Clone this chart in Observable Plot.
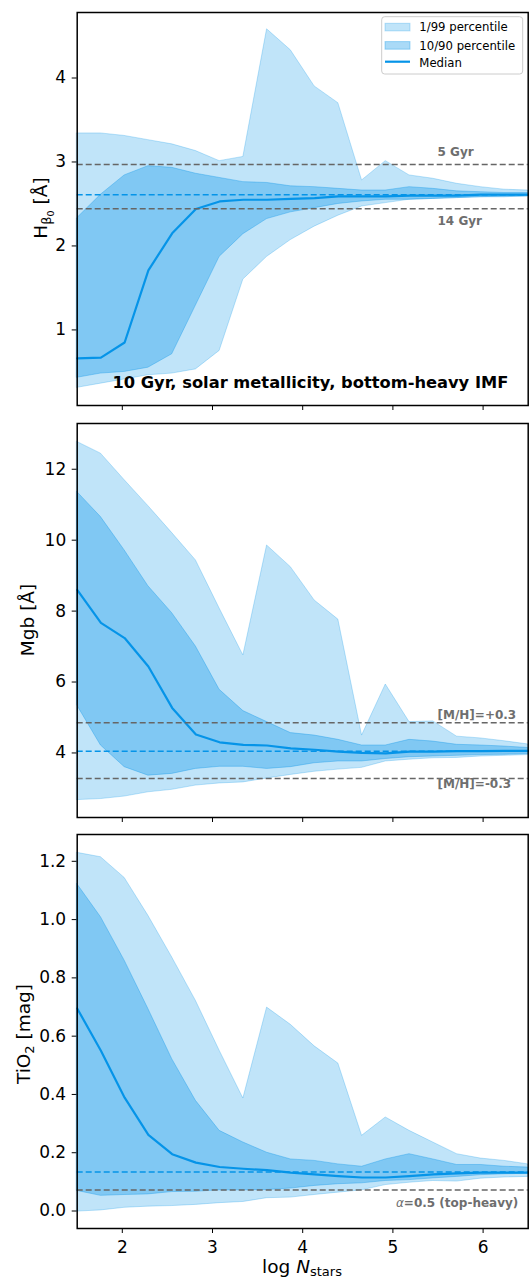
<!DOCTYPE html>
<html>
<head>
<meta charset="utf-8">
<script src="https://cdn.jsdelivr.net/npm/d3@7"></script>
<script src="https://cdn.jsdelivr.net/npm/@observablehq/plot@0.6"></script>
<style>
  html, body { margin: 0; padding: 0; background: #ffffff; }
  #chart { position: relative; width: 529px; height: 1278px; overflow: hidden; font-family: "DejaVu Sans", sans-serif; }
  #chart > div { position: absolute; left: 0; }
  svg { display: block; }
</style>
</head>
<body>
<div id="chart"></div>
<script>
// ---------- data ----------
const logN = [1.5, 1.763, 2.026, 2.289, 2.553, 2.816, 3.079, 3.342, 3.605, 3.868,
              4.132, 4.395, 4.658, 4.921, 5.184, 5.447, 5.711, 5.974, 6.237, 6.5];

// H beta_0 [Å]
const hb_p1  = [0.31, 0.36, 0.41, 0.46, 0.48, 0.53, 0.75, 1.60, 1.87, 2.07, 2.23, 2.36, 2.47, 2.51, 2.55, 2.56, 2.57, 2.58, 2.59, 2.59];
const hb_p10 = [0.43, 0.48, 0.50, 0.55, 0.71, 1.29, 1.87, 2.14, 2.32, 2.40, 2.45, 2.50, 2.53, 2.55, 2.55, 2.56, 2.57, 2.58, 2.58, 2.59];
const hb_med = [0.66, 0.67, 0.85, 1.71, 2.15, 2.44, 2.53, 2.55, 2.55, 2.56, 2.57, 2.59, 2.59, 2.59, 2.60, 2.60, 2.60, 2.61, 2.61, 2.61];
const hb_p90 = [2.33, 2.61, 2.84, 2.95, 2.93, 2.86, 2.81, 2.76, 2.75, 2.71, 2.70, 2.68, 2.66, 2.66, 2.70, 2.68, 2.65, 2.64, 2.63, 2.63];
const hb_p99 = [3.34, 3.34, 3.31, 3.26, 3.21, 3.13, 3.01, 3.06, 4.58, 4.33, 3.90, 3.70, 2.78, 3.01, 2.84, 2.80, 2.74, 2.70, 2.67, 2.66];

// Mgb [Å]
const mg_p1  = [2.67, 2.70, 2.77, 2.89, 2.96, 3.08, 3.14, 3.17, 3.28, 3.38, 3.47, 3.53, 3.58, 3.76, 3.81, 3.85, 3.86, 3.90, 3.92, 3.94];
const mg_p10 = [5.34, 4.21, 3.60, 3.36, 3.41, 3.55, 3.61, 3.61, 3.55, 3.60, 3.71, 3.76, 3.76, 3.83, 3.88, 3.90, 3.92, 3.94, 3.95, 3.97];
const mg_med = [8.60, 7.67, 7.24, 6.44, 5.27, 4.52, 4.30, 4.23, 4.21, 4.13, 4.09, 4.04, 4.00, 3.99, 4.04, 4.04, 4.05, 4.05, 4.06, 4.06];
const mg_p90 = [11.36, 10.65, 9.71, 8.70, 7.94, 7.00, 5.78, 5.18, 4.87, 4.56, 4.49, 4.37, 4.21, 4.21, 4.37, 4.32, 4.23, 4.21, 4.18, 4.14];
const mg_p99 = [12.77, 12.44, 11.69, 10.96, 10.20, 9.43, 8.07, 6.75, 9.85, 9.24, 8.30, 7.76, 4.49, 5.93, 4.87, 4.89, 4.46, 4.41, 4.33, 4.24];

// TiO2 [mag]
const ti_p1  = [-0.002, 0.002, 0.011, 0.015, 0.017, 0.021, 0.027, 0.031, 0.044, 0.046, 0.055, 0.063, 0.071, 0.089, 0.097, 0.103, 0.101, 0.111, 0.115, 0.117];
const ti_p10 = [0.069, 0.052, 0.055, 0.057, 0.065, 0.066, 0.071, 0.071, 0.072, 0.077, 0.086, 0.092, 0.095, 0.103, 0.106, 0.112, 0.117, 0.123, 0.126, 0.128];
const ti_med = [0.695, 0.550, 0.389, 0.261, 0.195, 0.166, 0.151, 0.145, 0.140, 0.132, 0.126, 0.120, 0.115, 0.115, 0.120, 0.126, 0.129, 0.132, 0.132, 0.132];
const ti_p90 = [1.122, 1.008, 0.859, 0.693, 0.521, 0.378, 0.275, 0.235, 0.200, 0.177, 0.172, 0.160, 0.152, 0.177, 0.195, 0.177, 0.158, 0.158, 0.152, 0.149];
const ti_p99 = [1.229, 1.214, 1.143, 1.013, 0.870, 0.721, 0.550, 0.386, 0.698, 0.639, 0.565, 0.506, 0.258, 0.321, 0.275, 0.235, 0.195, 0.180, 0.172, 0.160];

// reference levels
const hb_refValues = [2.97, 2.443];
const hb_refLabels = ["5 Gyr", "14 Gyr"];
const hb_medianRef = 2.61;
const mg_refValues = [4.85, 3.28];
const mg_refLabels = ["[M/H]=+0.3", "[M/H]=-0.3"];
const mg_medianRef = 4.05;
const ti_refValues = [0.072];
const ti_medianRef = 0.134;

// ticks
const xTicks  = [2, 3, 4, 5, 6];
const hbTicks = [1, 2, 3, 4];
const mgTicks = [4, 6, 8, 10, 12];
const tiTicks = [0.0, 0.2, 0.4, 0.6, 0.8, 1.0, 1.2];

const legendLabels = ["1/99 percentile", "10/90 percentile", "Median"];

// ---------- styling ----------
const C = "rgb(5,148,232)";
const GRAY = "#666666";
const LABELGRAY = "#6e6e6e";
const FONT = "DejaVu Sans";

function rowsOf(p1, p10, med, p90, p99) {
  return logN.map((x, i) => ({x, p1: p1[i], p10: p10[i], med: med[i], p90: p90[i], p99: p99[i]}));
}

function panel({rows, domain, ticks, tickFormat, height, mt, mb, refs, medRef, showX}) {
  return Plot.plot({
    width: 529, height,
    marginLeft: 76.7, marginRight: 1.3, marginTop: mt, marginBottom: mb,
    style: {fontFamily: FONT, fontSize: "17px", color: "black", background: "white", overflow: "visible"},
    x: {domain: [1.5, 6.5], ticks: xTicks, tickSize: 5, tickPadding: 7,
        tickFormat: showX ? (d => String(d)) : (() => ""), label: null},
    y: {domain, ticks, tickSize: 5, tickPadding: 6, tickFormat, label: null},
    marks: [
      Plot.areaY(rows, {x: "x", y1: "p1", y2: "p99", fill: C, fillOpacity: 0.25,
                        stroke: C, strokeOpacity: 0.25, strokeWidth: 1, curve: "linear"}),
      Plot.areaY(rows, {x: "x", y1: "p10", y2: "p90", fill: C, fillOpacity: 0.34,
                        stroke: C, strokeOpacity: 0.34, strokeWidth: 1, curve: "linear"}),
      Plot.line(rows, {x: "x", y: "med", stroke: C, strokeWidth: 2.2}),
      Plot.ruleY(refs, {stroke: GRAY, strokeDasharray: "6,3", strokeWidth: 1.5}),
      Plot.ruleY([medRef], {stroke: C, strokeDasharray: "6,3", strokeWidth: 1.5}),
      Plot.frame({stroke: "black", strokeWidth: 1.5})
    ]
  });
}

const chart = d3.select("#chart");

function place(svg, top) {
  chart.append("div").style("top", top + "px").node().appendChild(svg);
  return d3.select(svg);
}

// ---------- panel 1 ----------
const p1 = panel({rows: rowsOf(hb_p1, hb_p10, hb_med, hb_p90, hb_p99), domain: [0.10, 4.78],
  ticks: hbTicks, tickFormat: d => String(d), height: 412, mt: 12, mb: 7,
  refs: hb_refValues, medRef: hb_medianRef, showX: false});
const s1 = place(p1, 0);
{
  const x = p1.scale("x"), y = p1.scale("y");
  const g = s1.append("g").attr("font-family", FONT).attr("font-weight", "bold")
    .attr("font-size", 12).attr("fill", LABELGRAY).attr("text-anchor", "start");
  g.append("text").attr("x", x.apply(5.5)).attr("y", y.apply(hb_refValues[0]) - 8.3).text(hb_refLabels[0]);
  g.append("text").attr("x", x.apply(5.5)).attr("y", y.apply(hb_refValues[1]) + 16.3).text(hb_refLabels[1]);
  s1.append("text").attr("font-family", FONT).attr("font-weight", "bold").attr("font-size", 16.3)
    .attr("fill", "black").attr("text-anchor", "end")
    .attr("x", 508.3).attr("y", 388.3).text("10 Gyr, solar metallicity, bottom-heavy IMF");
  // y label
  const t = s1.append("text").attr("font-family", FONT).attr("font-size", 18.5).attr("fill", "black")
    .attr("text-anchor", "middle").attr("transform", "translate(46.7,208) rotate(-90)");
  t.append("tspan").text("H");
  t.append("tspan").attr("font-size", 13).attr("dy", 4).text("β");
  t.append("tspan").attr("font-size", 9.5).attr("dy", 3).text("0");
  t.append("tspan").attr("dy", -7).text(" [Å]");
  // legend
  const L = s1.append("g").attr("font-family", FONT).attr("font-size", 11.7).attr("text-anchor", "start");
  L.append("rect").attr("x", 381.7).attr("y", 16.7).attr("width", 141).attr("height", 57.3)
    .attr("rx", 3).attr("fill", "white").attr("fill-opacity", 0.8).attr("stroke", "#cccccc").attr("stroke-width", 1);
  L.append("rect").attr("x", 385).attr("y", 23.3).attr("width", 25).attr("height", 7.6)
    .attr("fill", C).attr("fill-opacity", 0.25).attr("stroke", C).attr("stroke-opacity", 0.25);
  L.append("rect").attr("x", 385).attr("y", 41.6).attr("width", 25).attr("height", 7.6)
    .attr("fill", C).attr("fill-opacity", 0.34).attr("stroke", C).attr("stroke-opacity", 0.34);
  L.append("line").attr("x1", 385).attr("x2", 410).attr("y1", 61.7).attr("y2", 61.7)
    .attr("stroke", C).attr("stroke-width", 2.2);
  [31.4, 49.6, 66.9].forEach((yy, i) => {
    L.append("text").attr("x", 419.3).attr("y", yy).attr("fill", "black").text(legendLabels[i]);
  });
}

// ---------- panel 2 ----------
const p2 = panel({rows: rowsOf(mg_p1, mg_p10, mg_med, mg_p90, mg_p99), domain: [2.18, 13.29],
  ticks: mgTicks, tickFormat: d => String(d), height: 412, mt: 11, mb: 7,
  refs: mg_refValues, medRef: mg_medianRef, showX: false});
const s2 = place(p2, 412);
{
  const x = p2.scale("x"), y = p2.scale("y");
  const g = s2.append("g").attr("font-family", FONT).attr("font-weight", "bold")
    .attr("font-size", 12).attr("fill", LABELGRAY).attr("text-anchor", "start");
  g.append("text").attr("x", x.apply(5.5)).attr("y", y.apply(mg_refValues[0]) - 3.7).text(mg_refLabels[0]);
  g.append("text").attr("x", x.apply(5.5)).attr("y", y.apply(mg_refValues[1]) + 10).text(mg_refLabels[1]);
  s2.append("text").attr("font-family", FONT).attr("font-size", 18.5).attr("fill", "black")
    .attr("text-anchor", "middle").attr("transform", "translate(34.3," + (620 - 412) + ") rotate(-90)")
    .text("Mgb [Å]");
}

// ---------- panel 3 ----------
const p3 = panel({rows: rowsOf(ti_p1, ti_p10, ti_med, ti_p90, ti_p99), domain: [-0.06, 1.292],
  ticks: tiTicks, tickFormat: d => d.toFixed(1), height: 454, mt: 10, mb: 50,
  refs: ti_refValues, medRef: ti_medianRef, showX: true});
const s3 = place(p3, 824);
{
  const x = p3.scale("x"), y = p3.scale("y");
  const t = s3.append("text").attr("font-family", FONT).attr("font-size", 12).attr("fill", LABELGRAY)
    .attr("text-anchor", "end").attr("x", x.apply(6.5) - 9.4).attr("y", y.apply(ti_refValues[0]) + 17.7);
  t.append("tspan").attr("font-style", "italic").text("α");
  t.append("tspan").attr("font-weight", "bold").text("=0.5 (top-heavy)");
  const yl = s3.append("text").attr("font-family", FONT).attr("font-size", 18.5).attr("fill", "black")
    .attr("text-anchor", "middle").attr("transform", "translate(29.8," + (1034 - 824) + ") rotate(-90)");
  yl.append("tspan").text("TiO");
  yl.append("tspan").attr("font-size", 13).attr("dy", 4).text("2");
  yl.append("tspan").attr("dy", -4).text(" [mag]");
  const xl = s3.append("text").attr("font-family", FONT).attr("font-size", 18.5).attr("fill", "black")
    .attr("text-anchor", "middle").attr("x", 302).attr("y", 1273 - 824);
  xl.append("tspan").text("log ");
  xl.append("tspan").attr("font-style", "italic").text("N");
  xl.append("tspan").attr("font-size", 13).attr("dy", 3).text("stars");
}
</script>
</body>
</html>
